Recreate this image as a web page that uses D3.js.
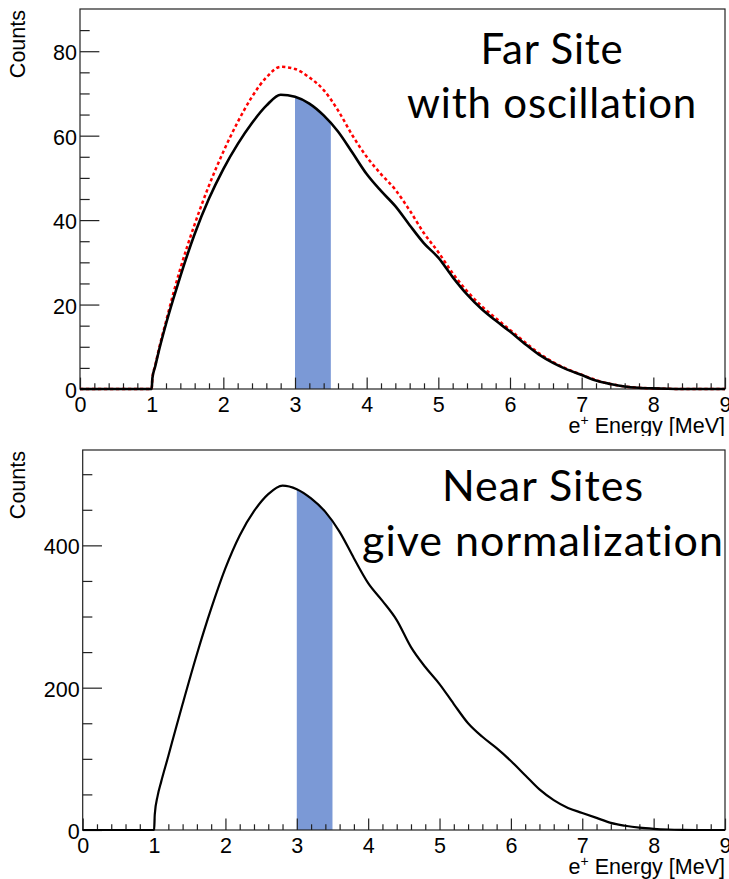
<!DOCTYPE html>
<html>
<head>
<meta charset="utf-8">
<script src="https://cdn.jsdelivr.net/npm/d3@7"></script>
<style>
  html, body { margin: 0; padding: 0; background: #fff; }
  svg { display: block; }
</style>
</head>
<body>
<svg id="chart" width="729" height="879"></svg>
<script>
// Positron energy grid [MeV] shared by all spectra
const energy = [0, 0.5, 1.0, 1.01, 1.05, 1.1, 1.2, 1.3, 1.4, 1.6, 1.8, 2.0, 2.2, 2.4, 2.6, 2.8,
  3.0, 3.2, 3.4, 3.6, 3.8, 4.0, 4.2, 4.4, 4.6, 4.8, 5.0, 5.2, 5.4, 5.6, 5.8, 6.0,
  6.2, 6.4, 6.6, 6.8, 7.0, 7.2, 7.4, 7.6, 7.8, 8.0, 8.2, 8.4, 8.6, 9.0];

// Far site spectrum, with oscillation (solid black)
const farWithOsc = [0, 0, 0, 2.5, 5.4, 9.0, 15.4, 21.2, 26.7, 36.7, 45.1, 52.1, 58.0, 63.0, 67.1, 69.7,
  69.2, 67.6, 64.8, 61.0, 56.0, 50.9, 46.9, 43.3, 38.8, 34.5, 31.1, 26.5, 22.4, 19.0, 16.2, 13.6,
  10.8, 8.2, 6.2, 4.6, 3.3, 2.0, 1.2, 0.6, 0.3, 0.15, 0.05, 0, 0, 0];

// Far site spectrum, no oscillation (red dashed)
const farNoOsc = [0, 0, 0, 2.6, 5.6, 9.4, 16.0, 22.5, 28.5, 39.0, 48.2, 56.2, 63.2, 69.2, 73.8, 76.3,
  75.8, 73.8, 70.8, 66.0, 60.1, 55.0, 50.9, 47.2, 42.3, 36.9, 32.4, 27.4, 23.2, 19.7, 16.8, 14.0,
  11.2, 8.5, 6.4, 4.7, 3.4, 2.1, 1.2, 0.6, 0.3, 0.15, 0.05, 0, 0, 0];

// Near sites spectrum
const nearSites = [0, 0, 0, 22, 48, 68, 104, 141, 177, 247, 311, 368, 414, 448, 472, 484,
  479, 466, 447, 419, 382, 347, 322, 295, 257, 229, 205, 177, 150, 131, 115, 97,
  77, 57, 42, 31, 24, 17, 10, 6, 3.3, 1.7, 0.7, 0.2, 0, 0];

// Highlighted energy window [MeV]
const windowRange = [3.0, 3.5];

const xTicksMajor = [0, 1, 2, 3, 4, 5, 6, 7, 8, 9];
const farYTicks = [0, 20, 40, 60, 80];
const nearYTicks = [0, 200, 400];

const xTitle = "Energy [MeV]";
const yTitle = "Counts";

const svg = d3.select("#chart");
const FONT = '"Liberation Sans", Arial, sans-serif';
const LABEL_FONT = 'Lato, "Open Sans", sans-serif';
const FS = 21.5;

function panel(opts) {
  const { left, right, top, bottom, yMax, yTicks, yMinorStep, series, annotation, clipTitle, id } = opts;
  const x = d3.scaleLinear().domain([0, 9]).range([left, right]);
  const y = d3.scaleLinear().domain([0, yMax]).range([bottom, top]);
  const g = svg.append("g");

  // highlighted window: area under the measured curve, clipped to the window
  const clipId = "win-" + id;
  svg.append("clipPath").attr("id", clipId)
    .append("rect")
    .attr("x", x(windowRange[0])).attr("y", top)
    .attr("width", x(windowRange[1]) - x(windowRange[0]))
    .attr("height", bottom - top);
  const main = series[series.length - 1];
  const pts = energy.map((e, i) => [e, main.values[i]]);
  g.append("path")
    .attr("clip-path", `url(#${clipId})`)
    .attr("fill", "#7b99d6")
    .attr("d", d3.area().x(d => x(d[0])).y0(y(0)).y1(d => y(d[1])).curve(d3.curveMonotoneX)(pts));

  // frame
  g.append("rect")
    .attr("x", left).attr("y", top)
    .attr("width", right - left).attr("height", bottom - top)
    .attr("fill", "none").attr("stroke", "#222").attr("stroke-width", 1.2);

  // x axis: major + minor ticks pointing inward
  const tickX = (bottom - top) * 0.03;
  const xAxis = g.append("g").attr("transform", `translate(0,${bottom})`)
    .call(d3.axisBottom(x).tickValues(xTicksMajor).tickFormat(d3.format("d"))
      .tickSizeInner(-tickX).tickSizeOuter(0).tickPadding(8));
  xAxis.call(a => a.select(".domain").remove());
  const xMinor = d3.range(0, 9.0001, 0.2).filter(v => Math.abs(v - Math.round(v)) > 1e-6);
  g.append("g").attr("transform", `translate(0,${bottom})`)
    .call(d3.axisBottom(x).tickValues(xMinor).tickFormat("").tickSizeInner(-tickX / 2).tickSizeOuter(0))
    .call(a => a.select(".domain").remove());

  // y axis
  const tickY = (right - left) * 0.03;
  const yAxis = g.append("g").attr("transform", `translate(${left},0)`)
    .call(d3.axisLeft(y).tickValues(yTicks).tickFormat(d3.format("d"))
      .tickSizeInner(-tickY).tickSizeOuter(0).tickPadding(3));
  yAxis.call(a => a.select(".domain").remove());
  yAxis.selectAll("text").attr("dy", "0.4em");
  const yMinor = d3.range(yMinorStep, yMax, yMinorStep).filter(v => yTicks.indexOf(v) < 0);
  g.append("g").attr("transform", `translate(${left},0)`)
    .call(d3.axisLeft(y).tickValues(yMinor).tickFormat("").tickSizeInner(-tickY / 2).tickSizeOuter(0))
    .call(a => a.select(".domain").remove());

  g.selectAll(".tick line").attr("stroke", "#222").attr("stroke-width", 1.2);
  g.selectAll(".tick text").attr("font-size", FS).attr("fill", "#000").attr("font-family", FONT);

  // spectra
  series.forEach(s => {
    const line = d3.line().x((d, i) => x(energy[i])).y(d => y(d)).curve(d3.curveMonotoneX);
    g.append("path")
      .attr("d", line(s.values))
      .attr("fill", "none")
      .attr("stroke", s.color)
      .attr("stroke-width", s.width)
      .attr("stroke-dasharray", s.dash || null)
      .attr("stroke-linejoin", "round");
  });

  // axis titles
  const tg = g.append("g");
  if (clipTitle) {
    svg.append("clipPath").attr("id", "title-" + id)
      .append("rect").attr("x", 0).attr("y", 0).attr("width", 729).attr("height", clipTitle);
    tg.attr("clip-path", `url(#title-${id})`);
  }
  const xt = tg.append("text")
    .attr("x", right).attr("y", bottom + 44)
    .attr("text-anchor", "end")
    .attr("font-family", FONT).attr("font-size", FS).attr("fill", "#000");
  xt.append("tspan").text("e");
  xt.append("tspan").attr("font-size", 14).attr("dy", -8).text("+");
  xt.append("tspan").attr("dy", 8).text(" " + xTitle);

  g.append("text")
    .attr("transform", `translate(${25},${top + 1}) rotate(-90)`)
    .attr("text-anchor", "end")
    .attr("font-family", FONT).attr("font-size", FS).attr("fill", "#000")
    .text(yTitle);

  // annotation
  annotation.lines.forEach((t, i) => {
    g.append("text")
      .attr("x", annotation.cx).attr("y", annotation.y[i])
      .attr("text-anchor", "middle")
      .attr("font-family", LABEL_FONT).attr("font-size", annotation.size)
      .attr("letter-spacing", annotation.spacing)
      .attr("fill", "#000")
      .text(t);
  });
}

panel({
  id: "far",
  left: 80, right: 725, top: 9, bottom: 389,
  yMax: 90, yTicks: farYTicks, yMinorStep: 5,
  series: [
    { values: farNoOsc, color: "#ff0000", width: 2.5, dash: "3.3,2.7" },
    { values: farWithOsc, color: "#000", width: 2.6 }
  ],
  annotation: { cx: 552, y: [64, 118], size: 42, spacing: 0.8, lines: ["Far Site", "with oscillation"] },
  clipTitle: 436
});

panel({
  id: "near",
  left: 82.7, right: 725, top: 450, bottom: 830,
  yMax: 534, yTicks: nearYTicks, yMinorStep: 50,
  series: [
    { values: nearSites, color: "#000", width: 2.2 }
  ],
  annotation: { cx: 543, y: [501, 556], size: 43, spacing: 1.0, lines: ["Near Sites", "give normalization"] },
  clipTitle: null
});
</script>
</body>
</html>
